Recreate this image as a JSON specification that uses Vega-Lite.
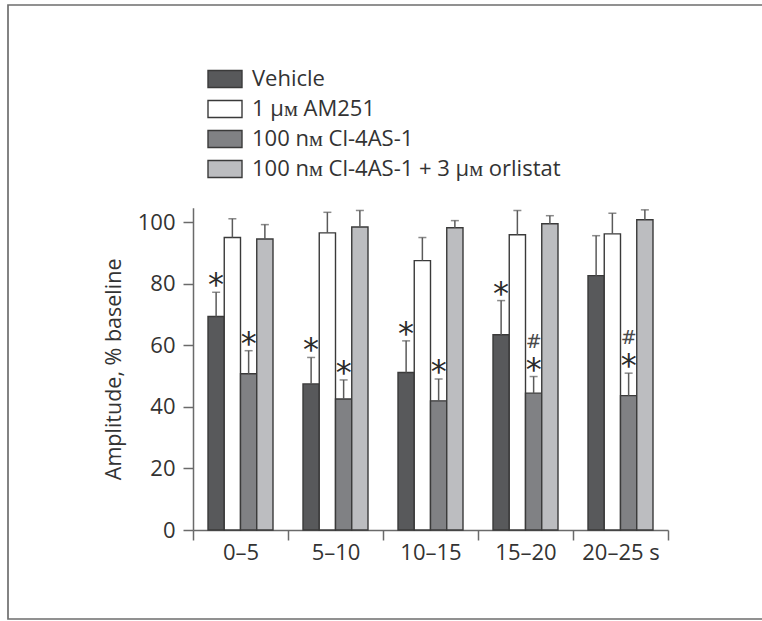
{
  "$schema": "https://vega.github.io/schema/vega-lite/v6.json",
  "autosize": {"type": "none"},
  "width": 762,
  "height": 614,
  "padding": {"left": 8, "top": 5, "right": -8, "bottom": 2},
  "background": "white",
  "config": {
    "view": {"stroke": "#6e6e6e", "strokeWidth": 1.7},
    "font": "Open Sans",
    "axis": {
      "labelFont": "Open Sans", "titleFont": "Open Sans",
      "labelColor": "#333333", "titleColor": "#333333",
      "domainColor": "#6a6a6a", "tickColor": "#6a6a6a",
      "domainWidth": 1.5, "tickWidth": 1.5, "tickSize": 10,
      "labelFontSize": 22, "titleFontSize": 21.5, "titleFontWeight": "normal",
      "grid": false
    },
    "legend": {"labelFont": "Open Sans", "labelFontSize": 22, "labelColor": "#333333", "labelLimit": 0}
  },
  "data": {"values": [
    {"group": "0–5", "cond": "Vehicle", "value": 69.4, "hi": 77.3, "star": "*", "hash": ""},
    {"group": "0–5", "cond": "1 μᴍ AM251", "value": 95.1, "hi": 101.2, "star": "", "hash": ""},
    {"group": "0–5", "cond": "100 nᴍ Cl-4AS-1", "value": 50.8, "hi": 58.3, "star": "*", "hash": ""},
    {"group": "0–5", "cond": "100 nᴍ Cl-4AS-1 + 3 μᴍ orlistat", "value": 94.6, "hi": 99.3, "star": "", "hash": ""},
    {"group": "5–10", "cond": "Vehicle", "value": 47.5, "hi": 56.1, "star": "*", "hash": ""},
    {"group": "5–10", "cond": "1 μᴍ AM251", "value": 96.6, "hi": 103.3, "star": "", "hash": ""},
    {"group": "5–10", "cond": "100 nᴍ Cl-4AS-1", "value": 42.6, "hi": 48.8, "star": "*", "hash": ""},
    {"group": "5–10", "cond": "100 nᴍ Cl-4AS-1 + 3 μᴍ orlistat", "value": 98.5, "hi": 103.9, "star": "", "hash": ""},
    {"group": "10–15", "cond": "Vehicle", "value": 51.2, "hi": 61.5, "star": "*", "hash": ""},
    {"group": "10–15", "cond": "1 μᴍ AM251", "value": 87.6, "hi": 95.1, "star": "", "hash": ""},
    {"group": "10–15", "cond": "100 nᴍ Cl-4AS-1", "value": 42.0, "hi": 49.1, "star": "*", "hash": ""},
    {"group": "10–15", "cond": "100 nᴍ Cl-4AS-1 + 3 μᴍ orlistat", "value": 98.3, "hi": 100.6, "star": "", "hash": ""},
    {"group": "15–20", "cond": "Vehicle", "value": 63.5, "hi": 74.6, "star": "*", "hash": ""},
    {"group": "15–20", "cond": "1 μᴍ AM251", "value": 96.0, "hi": 103.9, "star": "", "hash": ""},
    {"group": "15–20", "cond": "100 nᴍ Cl-4AS-1", "value": 44.5, "hi": 49.9, "star": "*", "hash": "#"},
    {"group": "15–20", "cond": "100 nᴍ Cl-4AS-1 + 3 μᴍ orlistat", "value": 99.6, "hi": 102.2, "star": "", "hash": ""},
    {"group": "20–25 s", "cond": "Vehicle", "value": 82.7, "hi": 95.7, "star": "", "hash": ""},
    {"group": "20–25 s", "cond": "1 μᴍ AM251", "value": 96.3, "hi": 103.0, "star": "", "hash": ""},
    {"group": "20–25 s", "cond": "100 nᴍ Cl-4AS-1", "value": 43.7, "hi": 51.0, "star": "*", "hash": "#"},
    {"group": "20–25 s", "cond": "100 nᴍ Cl-4AS-1 + 3 μᴍ orlistat", "value": 100.9, "hi": 104.1, "star": "", "hash": ""}
  ]},
  "encoding": {
    "x": {
      "field": "group", "type": "nominal", "sort": null,
      "scale": {"range": [185, 660], "paddingInner": 0, "paddingOuter": 0},
      "axis": {"title": null, "labelAngle": 0, "offset": -89, "tickBand": "extent", "labelPadding": 2}
    },
    "xOffset": {
      "field": "cond", "type": "nominal",
      "sort": ["Vehicle", "1 μᴍ AM251", "100 nᴍ Cl-4AS-1", "100 nᴍ Cl-4AS-1 + 3 μᴍ orlistat"],
      "scale": {"paddingInner": 0, "paddingOuter": 0.923}
    }
  },
  "layer": [
    {
      "mark": {"type": "bar", "stroke": "#3a3a3a", "strokeWidth": 1.4},
      "encoding": {
        "y": {
          "field": "value", "type": "quantitative",
          "scale": {"domain": [0, 104.8], "range": [525, 202.7], "nice": false, "zero": true},
          "axis": {"title": "Amplitude, % baseline", "values": [0, 20, 40, 60, 80, 100], "offset": -185, "labelPadding": 8, "titlePadding": 12}
        },
        "fill": {
          "field": "cond", "type": "nominal",
          "scale": {
            "domain": ["Vehicle", "1 μᴍ AM251", "100 nᴍ Cl-4AS-1", "100 nᴍ Cl-4AS-1 + 3 μᴍ orlistat"],
            "range": ["#58595b", "#ffffff", "#808184", "#bcbdc0"]
          },
          "legend": {
            "title": null, "orient": "none", "legendX": 199, "legendY": 56,
            "symbolType": "M-1,-0.5H1V0.5H-1Z", "symbolSize": 1156,
            "symbolStrokeColor": "#3a3a3a", "symbolStrokeWidth": 1.4,
            "symbolOpacity": 1, "rowPadding": -3, "labelOffset": 9, "padding": 0, "labelLimit": 0
          }
        }
      }
    },
    {
      "mark": {"type": "rule", "color": "#5a5a5a", "strokeWidth": 1.5},
      "encoding": {
        "y": {"field": "value", "type": "quantitative"},
        "y2": {"field": "hi"}
      }
    },
    {
      "mark": {"type": "tick", "color": "#5a5a5a", "thickness": 1.5, "size": 8, "orient": "horizontal"},
      "encoding": {
        "y": {"field": "hi", "type": "quantitative"}
      }
    },
    {
      "transform": [{"filter": "datum.star != ''"}],
      "mark": {"type": "text", "font": "DejaVu Sans", "fontSize": 32, "baseline": "alphabetic", "dy": 3, "color": "#2a2a2a"},
      "encoding": {
        "y": {"field": "hi", "type": "quantitative"},
        "text": {"field": "star"}
      }
    },
    {
      "transform": [{"filter": "datum.hash != ''"}],
      "mark": {"type": "text", "font": "DejaVu Sans", "fontSize": 19, "baseline": "alphabetic", "dy": -29, "color": "#4a4a4a"},
      "encoding": {
        "y": {"field": "hi", "type": "quantitative"},
        "text": {"field": "hash"}
      }
    }
  ]
}
